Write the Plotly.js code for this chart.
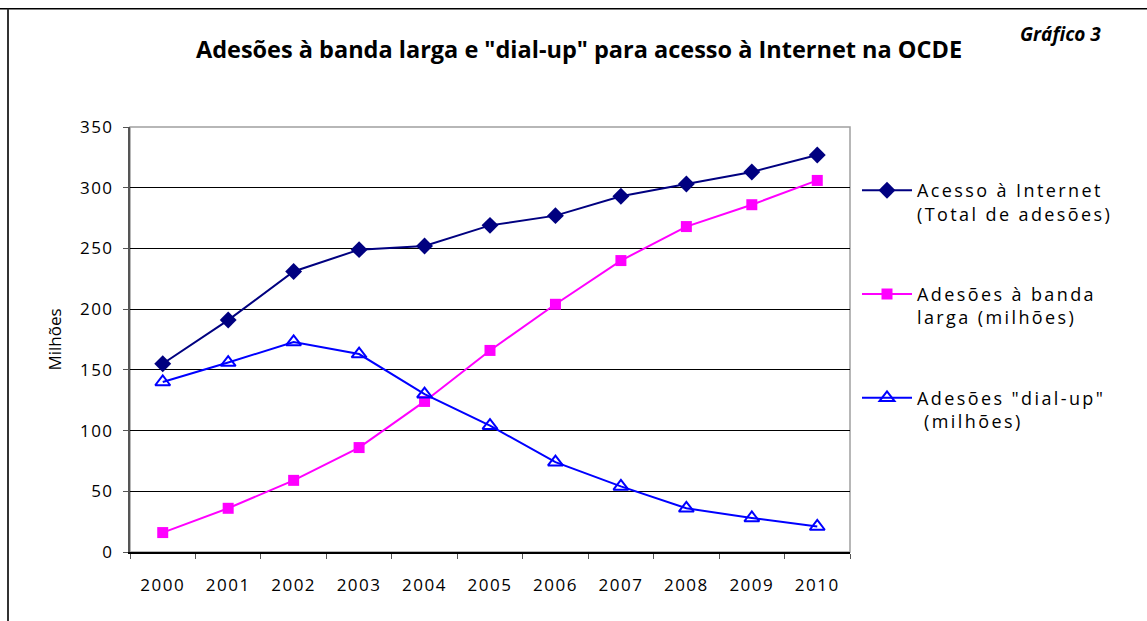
<!DOCTYPE html>
<html>
<head>
<meta charset="utf-8">
<script src="https://cdn.plot.ly/plotly-3.0.1.min.js"></script>
<style>
html,body{margin:0;padding:0;background:#fff;}
#chart{width:1147px;height:621px;}
.xtick text, .ytick text{letter-spacing:1.5px;}
.legendtext{letter-spacing:2.4px;}
</style>
</head>
<body>
<div id="chart"></div>
<script>
const years = ['2000','2001','2002','2003','2004','2005','2006','2007','2008','2009','2010'];
const internetTotal = [155, 191, 231, 249, 252, 269, 277, 293, 303, 313, 327];
const broadband = [16, 36, 59, 86, 124, 166, 204, 240, 268, 286, 306];
const dialup = [140, 156, 173, 163, 130, 104, 74, 54, 36, 28, 21];
const seriesNames = [
  'Acesso à Internet<br>(Total de adesões)',
  'Adesões à banda<br>larga (milhões)',
  'Adesões "dial-up"<br> (milhões)'
];
const yTicks = [0, 50, 100, 150, 200, 250, 300, 350];

const font = 'Open Sans, Noto Sans, sans-serif';

const traces = [
  {x: years, y: internetTotal, name: seriesNames[0], type: 'scatter', mode: 'lines+markers',
   legendgroup: 'a',
   line: {color: '#000080', width: 2},
   marker: {symbol: 'diamond', size: 13, color: '#000080'}},
  {x: years, y: broadband, name: seriesNames[1], type: 'scatter', mode: 'lines+markers',
   legendgroup: 'b',
   line: {color: '#FF00FF', width: 2},
   marker: {symbol: 'square', size: 11, color: '#FF00FF'}},
  {x: years, y: dialup, name: seriesNames[2], type: 'scatter', mode: 'lines+markers',
   legendgroup: 'c',
   line: {color: '#0000FF', width: 2},
   marker: {symbol: 'triangle-up-open', size: 13, color: '#0000FF', line: {width: 2, color: '#0000FF'}}}
];

const layout = {
  width: 1147, height: 621,
  paper_bgcolor: '#fff', plot_bgcolor: '#fff',
  margin: {l: 130, r: 297, t: 127, b: 69},
  font: {family: font, color: '#000', size: 17},
  title: {text: '<b>Adesões à banda larga e "dial-up" para acesso à Internet na OCDE</b>',
          font: {family: font, size: 23.5, color: '#000'},
          x: 579/1147, xanchor: 'center', xref: 'container',
          y: 1 - 50/621, yanchor: 'middle', yref: 'container'},
  xaxis: {type: 'category', range: [-0.5, 10.5], showgrid: false, zeroline: false,
          showline: true, linecolor: '#000', linewidth: 1.5,
          ticks: 'outside', tickson: 'boundaries', ticklen: 5, tickcolor: '#555', tickwidth: 1,
          ticklabelstandoff: 17,
          tickfont: {size: 17, family: font}, automargin: false},
  yaxis: {range: [0, 350], tickvals: yTicks, ticktext: yTicks.map(String),
          showgrid: true, gridcolor: '#000', gridwidth: 1, zeroline: false,
          showline: true, linecolor: '#555', linewidth: 2,
          ticks: 'outside', ticklen: 5, tickcolor: '#555',
          ticklabelstandoff: 6,
          tickfont: {size: 17, family: font},
          title: {text: 'Milhões', font: {size: 17, family: font}, standoff: 14},
          automargin: false},
  legend: {xref: 'container', yref: 'container', x: 857/1147, xanchor: 'left',
           y: 1 - 172/621, yanchor: 'top', valign: 'top',
           font: {size: 18, family: font, color: '#000'},
           traceorder: 'grouped', tracegroupgap: 54, itemwidth: 50,
           bgcolor: 'rgba(0,0,0,0)'},
  showlegend: true,
  shapes: [
    {type: 'rect', xref: 'paper', yref: 'paper', x0: 0, x1: 1, y0: 0, y1: 1,
     line: {color: '#a0a0a0', width: 1.5}, layer: 'below'},
    {type: 'line', xref: 'paper', yref: 'paper', x0: -130/720, x1: 1 + 310/720,
     y0: 1 + 118/424, y1: 1 + 118/424, line: {color: '#000', width: 1.5}},
    {type: 'line', xref: 'paper', yref: 'paper', x0: -122/720, x1: -122/720,
     y0: 1 + 118/424, y1: -80/424, line: {color: '#333', width: 2}}
  ],
  annotations: [
    {text: '<b><i>Gráfico 3</i></b>', xref: 'paper', yref: 'paper',
     x: (1060 - 130)/720, y: (552 - 35)/424, xanchor: 'center', yanchor: 'middle',
     showarrow: false, font: {size: 19, family: font, color: '#000'}}
  ]
};

Plotly.newPlot('chart', traces, layout, {displayModeBar: false, staticPlot: true});
</script>
</body>
</html>
